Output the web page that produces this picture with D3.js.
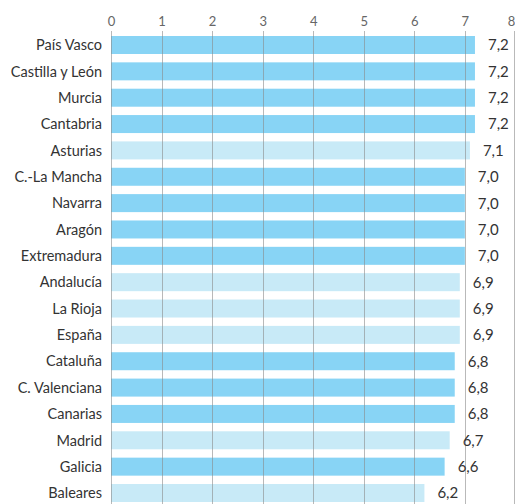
<!DOCTYPE html>
<html>
<head>
<meta charset="utf-8">
<script src="https://cdn.jsdelivr.net/npm/d3@7"></script>
<style>
html,body{margin:0;padding:0;background:#fff;}
svg{display:block;}
</style>
</head>
<body>
<svg id="chart" width="515" height="504"></svg>
<script>
const categories = ["País Vasco","Castilla y León","Murcia","Cantabria","Asturias","C.-La Mancha","Navarra","Aragón","Extremadura","Andalucía","La Rioja","España","Cataluña","C. Valenciana","Canarias","Madrid","Galicia","Baleares"];
const values = [7.2,7.2,7.2,7.2,7.1,7.0,7.0,7.0,7.0,6.9,6.9,6.9,6.8,6.8,6.8,6.7,6.6,6.2];
const highlighted = [true,true,true,true,false,true,true,true,true,false,false,false,true,true,true,false,true,false];
const ticks = [0,1,2,3,4,5,6,7,8];

const FONT = "Lato, 'Open Sans', sans-serif";
const svg = d3.select("#chart");
const x = d3.scaleLinear().domain([0,8]).range([111,515.4]);
const y = d3.scaleBand().domain(categories).range([36,502]).paddingInner(0.317).paddingOuter(0);

const data = categories.map((c,i)=>({c, v: values[i], h: highlighted[i]}));
const fmt = v => d3.format(".1f")(v).replace(".", ",");

// bars
svg.append("g").selectAll("rect").data(data).join("rect")
  .attr("x", x(0))
  .attr("y", d => y(d.c))
  .attr("width", d => x(d.v) - x(0))
  .attr("height", y.bandwidth())
  .attr("fill", d => d.h ? "#88d4f5" : "#c8eaf7");

// gridlines over bars
svg.append("g").selectAll("line").data(ticks).join("line")
  .attr("x1", d => Math.min(514, Math.round(x(d))) + 0.5)
  .attr("x2", d => Math.min(514, Math.round(x(d))) + 0.5)
  .attr("y1", 31)
  .attr("y2", 504)
  .attr("stroke", "#8a8a8a")
  .attr("stroke-opacity", 0.6)
  .attr("stroke-width", 1);

// top axis labels
const axis = d3.axisTop(x).tickValues(ticks).tickSize(0).tickPadding(0).tickFormat(d3.format("d"));
const ag = svg.append("g").attr("transform", "translate(0,26)").call(axis);
ag.select(".domain").remove();
ag.selectAll("text")
  .attr("font-family", FONT)
  .attr("font-size", 13)
  .attr("fill", "#666")
  .attr("text-anchor", d => d === 8 ? "end" : "middle")
  .attr("dx", d => d === 8 ? "-0.5" : 0);

// category labels
svg.append("g").selectAll("text").data(data).join("text")
  .attr("x", x(0) - 9)
  .attr("y", d => y(d.c) + y.bandwidth()/2)
  .attr("dy", "0.36em")
  .attr("text-anchor", "end")
  .attr("font-family", FONT)
  .attr("font-size", 14.5)
  .attr("fill", "#333")
  .text(d => d.c);

// value labels
svg.append("g").selectAll("text").data(data).join("text")
  .attr("x", d => x(d.v) + 13)
  .attr("y", d => y(d.c) + y.bandwidth()/2)
  .attr("dy", "0.36em")
  .attr("font-family", FONT)
  .attr("font-size", 15)
  .attr("fill", "#333")
  .text(d => fmt(d.v));
</script>
</body>
</html>
